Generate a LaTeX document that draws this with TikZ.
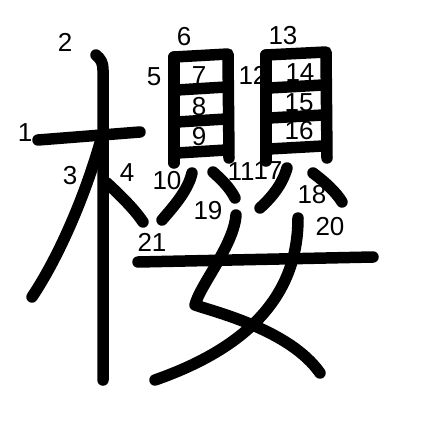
\documentclass[tikz,border=0pt]{standalone}
\usepackage{fontspec}
\setmainfont{Liberation Sans}
\begin{document}
\begin{tikzpicture}[x=1pt,y=-1pt,
  stroke/.style={line width=11.5pt,line cap=round,line join=round},
  num/.style={inner sep=0pt,font=\fontsize{26}{26}\selectfont}]
\useasboundingbox[fill=white] (0,0) rectangle (447,447);
% strokes
\draw[stroke] (38,140) -- (140,132);
\draw[stroke] (96,55) .. controls (101,59) and (103,63) .. (103,70) -- (103,380);
\draw[stroke] (100,143) .. controls (85,195) and (60,255) .. (32,297);
\draw[stroke] (107,183) .. controls (122,197) and (135,210) .. (143,222);
\draw[stroke] (174,57) -- (174,163);
\draw[stroke] (174,57) -- (228,54) -- (229,158);
\draw[stroke] (177,90) -- (226,87);
\draw[stroke] (177,122) -- (226,119);
\draw[stroke] (177,153) -- (226,150);
\draw[stroke] (192,173) .. controls (188,190) and (175,205) .. (162,220);
\draw[stroke] (213,172) .. controls (222,180) and (230,188) .. (235,198);
\draw[stroke] (266,55) -- (266,161);
\draw[stroke] (266,55) -- (326,52) -- (327,158);
\draw[stroke] (269,88) -- (323,85);
\draw[stroke] (269,118) -- (323,115);
\draw[stroke] (269,149) -- (323,146);
\draw[stroke] (287,168) .. controls (282,185) and (272,197) .. (260,208);
\draw[stroke] (313,173) .. controls (325,182) and (336,192) .. (342,202);
\draw[stroke] (236,215) .. controls (234,245) and (200,285) .. (195,305)
  .. controls (215,312) and (290,330) .. (320,373);
\draw[stroke] (298,218) .. controls (298,290) and (255,345) .. (155,380);
\draw[stroke] (138,262) -- (373,257);
% numbers
\node[num] (n1) at (25,133) {1};
\node[num] (n2) at (65,42) {2};
\node[num] (n3) at (70,176) {3};
\node[num] (n4) at (127,173) {4};
\node[num] (n5) at (154,77) {5};
\node[num] (n6) at (184,37) {6};
\node[num] (n7) at (199,76) {7};
\node[num] (n8) at (199,107) {8};
\node[num] (n9) at (199,137) {9};
\node[num] (n10) at (167,181) {10};
\node[num] (n11) at (241,172) {11};
\node[num] (n12) at (253,75) {12};
\node[num] (n13) at (283,36) {13};
\node[num] (n14) at (300,73) {14};
\node[num] (n15) at (299,103) {15};
\node[num] (n16) at (299,131) {16};
\node[num] (n17) at (268,171) {17};
\node[num] (n18) at (312,195) {18};
\node[num] (n19) at (208,211) {19};
\node[num] (n20) at (330,227) {20};
\node[num] (n21) at (152,242) {21};
\end{tikzpicture}
\end{document}
